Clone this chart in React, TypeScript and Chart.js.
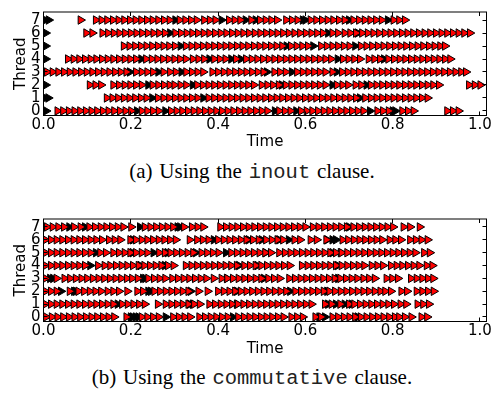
import React, { useEffect, useRef } from "react";
import { Chart, registerables } from "chart.js";

Chart.register(...registerables);

// ---------- tick labels / axes ----------
const xTickValues = [0, 0.2, 0.4, 0.6, 0.8, 1.0];
const yTickValues = [0, 1, 2, 3, 4, 5, 6, 7];
const xAxisTitle = "Time";
const yAxisTitle = "Thread";

// ---------- (a) inout clause : task start times per thread ----------
const inoutRed0 = [0.032, 0.045, 0.058, 0.071, 0.084, 0.097, 0.110, 0.123, 0.136, 0.149, 0.162, 0.175, 0.188, 0.201, 0.225, 0.238, 0.251, 0.264, 0.292, 0.305, 0.318, 0.331, 0.344, 0.357, 0.370, 0.383, 0.396, 0.409, 0.422, 0.435, 0.448, 0.461, 0.474, 0.487, 0.500, 0.513, 0.540, 0.553, 0.566, 0.590, 0.603, 0.616, 0.629, 0.642, 0.655, 0.668, 0.681, 0.694, 0.707, 0.720, 0.733, 0.765, 0.778, 0.791, 0.822, 0.835, 0.848, 0.925, 0.938, 0.951];
const inoutBlack0 = [0.006, 0.214, 0.279, 0.530, 0.579, 0.748, 0.800, 0.806];
const inoutRed1 = [0.145, 0.158, 0.171, 0.184, 0.197, 0.210, 0.223, 0.236, 0.262, 0.275, 0.288, 0.301, 0.314, 0.327, 0.340, 0.353, 0.378, 0.391, 0.404, 0.417, 0.430, 0.443, 0.456, 0.469, 0.482, 0.495, 0.508, 0.521, 0.534, 0.547, 0.560, 0.573, 0.586, 0.599, 0.612, 0.625, 0.638, 0.651, 0.664, 0.677, 0.690, 0.703, 0.716, 0.737, 0.750, 0.763, 0.776, 0.789, 0.802, 0.815, 0.828, 0.841, 0.854, 0.867, 0.880];
const inoutBlack1 = [0.004, 0.011, 0.249, 0.366, 0.725];
const inoutRed2 = [0.106, 0.119, 0.132, 0.160, 0.173, 0.186, 0.199, 0.212, 0.225, 0.250, 0.263, 0.276, 0.289, 0.300, 0.314, 0.327, 0.352, 0.365, 0.378, 0.391, 0.404, 0.417, 0.430, 0.443, 0.456, 0.469, 0.482, 0.500, 0.513, 0.526, 0.539, 0.555, 0.568, 0.581, 0.594, 0.607, 0.620, 0.633, 0.646, 0.672, 0.685, 0.698, 0.715, 0.728, 0.750, 0.763, 0.776, 0.789, 0.802, 0.815, 0.828, 0.841, 0.854, 0.867, 0.880, 0.893, 0.906, 0.975, 0.988, 1.001];
const inoutBlack2 = [0.005, 0.240, 0.342, 0.546, 0.662, 0.740];
const inoutRed3 = [0.008, 0.021, 0.034, 0.047, 0.060, 0.073, 0.086, 0.099, 0.112, 0.125, 0.138, 0.151, 0.164, 0.177, 0.190, 0.212, 0.225, 0.238, 0.251, 0.275, 0.290, 0.303, 0.327, 0.340, 0.353, 0.366, 0.387, 0.400, 0.413, 0.426, 0.439, 0.452, 0.465, 0.478, 0.491, 0.504, 0.529, 0.542, 0.555, 0.581, 0.594, 0.607, 0.620, 0.633, 0.646, 0.662, 0.684, 0.697, 0.710, 0.723, 0.736, 0.749, 0.762, 0.775, 0.788, 0.801, 0.814, 0.827, 0.840, 0.853, 0.866, 0.879, 0.892, 0.905, 0.918, 0.931, 0.944, 0.957, 0.968];
const inoutBlack3 = [0.198, 0.263, 0.316, 0.512, 0.569, 0.672];
const inoutRed4 = [0.056, 0.069, 0.082, 0.095, 0.108, 0.121, 0.134, 0.147, 0.160, 0.173, 0.186, 0.199, 0.212, 0.235, 0.248, 0.261, 0.274, 0.287, 0.300, 0.313, 0.326, 0.342, 0.355, 0.368, 0.391, 0.404, 0.417, 0.441, 0.464, 0.477, 0.490, 0.503, 0.516, 0.529, 0.542, 0.555, 0.568, 0.581, 0.594, 0.607, 0.620, 0.633, 0.646, 0.659, 0.686, 0.699, 0.712, 0.725, 0.745, 0.758, 0.771, 0.790, 0.803, 0.816, 0.829, 0.842, 0.855, 0.868, 0.881, 0.894, 0.907, 0.920, 0.932];
const inoutBlack4 = [0.005, 0.224, 0.380, 0.430, 0.452, 0.674, 0.780];
const inoutRed5 = [0.184, 0.197, 0.210, 0.223, 0.236, 0.249, 0.262, 0.275, 0.288, 0.301, 0.326, 0.339, 0.352, 0.365, 0.378, 0.391, 0.404, 0.417, 0.430, 0.443, 0.456, 0.469, 0.482, 0.495, 0.508, 0.521, 0.534, 0.547, 0.567, 0.580, 0.593, 0.606, 0.636, 0.649, 0.662, 0.675, 0.688, 0.701, 0.727, 0.740, 0.753, 0.766, 0.779, 0.792, 0.805, 0.818, 0.831, 0.844, 0.857, 0.870, 0.883, 0.896, 0.909, 0.920];
const inoutBlack5 = [0.005, 0.314, 0.557, 0.618, 0.714];
const inoutRed6 = [0.098, 0.112, 0.135, 0.148, 0.161, 0.174, 0.187, 0.200, 0.213, 0.226, 0.239, 0.252, 0.265, 0.278, 0.302, 0.315, 0.328, 0.341, 0.354, 0.367, 0.380, 0.393, 0.406, 0.419, 0.432, 0.445, 0.458, 0.471, 0.484, 0.497, 0.510, 0.523, 0.536, 0.549, 0.562, 0.575, 0.588, 0.601, 0.614, 0.627, 0.640, 0.662, 0.675, 0.690, 0.703, 0.716, 0.730, 0.743, 0.756, 0.769, 0.782, 0.795, 0.808, 0.821, 0.834, 0.847, 0.860, 0.873, 0.886, 0.899, 0.912, 0.925, 0.938, 0.951, 0.964, 0.977];
const inoutBlack6 = [0.005, 0.290, 0.652, 0.720];
const inoutRed7 = [0.085, 0.120, 0.133, 0.146, 0.159, 0.172, 0.185, 0.198, 0.211, 0.224, 0.237, 0.250, 0.263, 0.276, 0.289, 0.312, 0.325, 0.338, 0.351, 0.368, 0.381, 0.394, 0.425, 0.438, 0.451, 0.476, 0.496, 0.509, 0.522, 0.535, 0.556, 0.569, 0.582, 0.612, 0.625, 0.638, 0.651, 0.664, 0.677, 0.690, 0.710, 0.723, 0.736, 0.749, 0.762, 0.775, 0.802, 0.815, 0.828];
const inoutBlack7 = [0.004, 0.012, 0.302, 0.408, 0.463, 0.486, 0.594, 0.600, 0.700, 0.789];

// ---------- (b) commutative clause : task start times per thread ----------
const commRed0 = [0.006, 0.019, 0.032, 0.045, 0.058, 0.071, 0.084, 0.097, 0.110, 0.123, 0.136, 0.149, 0.162, 0.190, 0.225, 0.238, 0.251, 0.264, 0.297, 0.310, 0.323, 0.336, 0.357, 0.370, 0.383, 0.396, 0.409, 0.422, 0.446, 0.459, 0.472, 0.485, 0.498, 0.511, 0.524, 0.537, 0.550, 0.568, 0.581, 0.594, 0.623, 0.636, 0.662, 0.675, 0.688, 0.701, 0.714, 0.727, 0.740, 0.753, 0.766, 0.779, 0.792, 0.805, 0.815, 0.828, 0.843, 0.866, 0.879];
const commBlack0 = [0.200, 0.205, 0.212, 0.218, 0.280, 0.434, 0.632, 0.645, 0.720];
const commRed1 = [0.004, 0.017, 0.030, 0.043, 0.056, 0.069, 0.082, 0.095, 0.108, 0.121, 0.134, 0.147, 0.160, 0.180, 0.193, 0.206, 0.219, 0.232, 0.262, 0.280, 0.293, 0.306, 0.319, 0.332, 0.345, 0.358, 0.380, 0.393, 0.406, 0.419, 0.432, 0.445, 0.458, 0.471, 0.484, 0.497, 0.510, 0.523, 0.536, 0.549, 0.562, 0.575, 0.588, 0.601, 0.614, 0.645, 0.660, 0.680, 0.700, 0.712, 0.725, 0.738, 0.751, 0.764, 0.777, 0.790, 0.803, 0.818, 0.831, 0.857, 0.870, 0.883];
const commBlack1 = [0.170, 0.335, 0.342, 0.443, 0.652, 0.670, 0.690, 0.706];
const commRed2 = [0.004, 0.017, 0.030, 0.060, 0.080, 0.093, 0.106, 0.119, 0.132, 0.147, 0.160, 0.173, 0.192, 0.215, 0.228, 0.254, 0.267, 0.280, 0.293, 0.306, 0.319, 0.332, 0.355, 0.376, 0.400, 0.413, 0.426, 0.439, 0.452, 0.465, 0.478, 0.491, 0.504, 0.517, 0.530, 0.543, 0.556, 0.577, 0.590, 0.603, 0.616, 0.629, 0.642, 0.655, 0.668, 0.681, 0.694, 0.707, 0.720, 0.733, 0.746, 0.759, 0.772, 0.783, 0.796, 0.820, 0.833, 0.855, 0.868, 0.881, 0.894];
const commBlack2 = [0.040, 0.070, 0.074, 0.240, 0.246, 0.337, 0.443, 0.565, 0.650];
const commRed3 = [0.004, 0.030, 0.048, 0.061, 0.074, 0.087, 0.100, 0.113, 0.126, 0.139, 0.152, 0.165, 0.178, 0.191, 0.203, 0.216, 0.240, 0.253, 0.266, 0.279, 0.295, 0.308, 0.321, 0.334, 0.347, 0.360, 0.373, 0.390, 0.408, 0.421, 0.434, 0.447, 0.460, 0.473, 0.486, 0.499, 0.515, 0.528, 0.541, 0.563, 0.576, 0.589, 0.602, 0.615, 0.628, 0.641, 0.654, 0.667, 0.680, 0.693, 0.706, 0.719, 0.733, 0.746, 0.759, 0.786, 0.799, 0.812, 0.842, 0.855, 0.868, 0.881, 0.893];
const commBlack3 = [0.015, 0.022, 0.228, 0.233, 0.420, 0.505, 0.675];
const commRed4 = [0.004, 0.017, 0.030, 0.043, 0.056, 0.069, 0.082, 0.095, 0.125, 0.140, 0.153, 0.166, 0.179, 0.192, 0.205, 0.218, 0.231, 0.244, 0.257, 0.270, 0.285, 0.298, 0.326, 0.339, 0.352, 0.365, 0.378, 0.391, 0.404, 0.417, 0.430, 0.443, 0.460, 0.473, 0.486, 0.499, 0.512, 0.525, 0.538, 0.551, 0.564, 0.592, 0.605, 0.618, 0.631, 0.644, 0.657, 0.670, 0.683, 0.696, 0.709, 0.722, 0.735, 0.752, 0.765, 0.778, 0.796, 0.809, 0.822, 0.835, 0.848, 0.861, 0.878, 0.891];
const commBlack4 = [0.107, 0.222, 0.278, 0.448, 0.490, 0.674];
const commRed5 = [0.004, 0.017, 0.030, 0.043, 0.056, 0.069, 0.082, 0.095, 0.108, 0.130, 0.143, 0.160, 0.173, 0.186, 0.199, 0.212, 0.225, 0.238, 0.265, 0.278, 0.291, 0.304, 0.317, 0.330, 0.343, 0.362, 0.375, 0.388, 0.401, 0.430, 0.443, 0.456, 0.469, 0.482, 0.495, 0.508, 0.521, 0.540, 0.553, 0.566, 0.579, 0.592, 0.605, 0.618, 0.631, 0.644, 0.657, 0.670, 0.683, 0.696, 0.709, 0.722, 0.735, 0.748, 0.761, 0.774, 0.787, 0.800, 0.813, 0.826, 0.839, 0.852, 0.872, 0.885];
const commBlack5 = [0.120, 0.204, 0.252, 0.284, 0.349, 0.418, 0.509, 0.662, 0.681];
const commRed6 = [0.004, 0.017, 0.030, 0.043, 0.056, 0.069, 0.082, 0.095, 0.108, 0.121, 0.134, 0.150, 0.163, 0.176, 0.199, 0.212, 0.225, 0.238, 0.251, 0.264, 0.277, 0.290, 0.303, 0.335, 0.352, 0.365, 0.378, 0.400, 0.413, 0.426, 0.439, 0.452, 0.465, 0.480, 0.493, 0.510, 0.523, 0.536, 0.549, 0.575, 0.588, 0.612, 0.626, 0.648, 0.685, 0.698, 0.711, 0.724, 0.737, 0.750, 0.763, 0.776, 0.793, 0.806, 0.819, 0.840, 0.853, 0.866, 0.880];
const commBlack6 = [0.205, 0.390, 0.470, 0.500, 0.540, 0.562, 0.650, 0.662, 0.670];
const commRed7 = [0.008, 0.021, 0.034, 0.047, 0.070, 0.085, 0.105, 0.118, 0.131, 0.144, 0.157, 0.170, 0.183, 0.201, 0.232, 0.245, 0.258, 0.271, 0.284, 0.297, 0.322, 0.340, 0.353, 0.366, 0.405, 0.418, 0.431, 0.444, 0.457, 0.470, 0.483, 0.496, 0.509, 0.522, 0.535, 0.548, 0.561, 0.574, 0.587, 0.600, 0.617, 0.630, 0.643, 0.656, 0.669, 0.682, 0.695, 0.710, 0.723, 0.736, 0.749, 0.762, 0.775, 0.788, 0.801, 0.825, 0.840, 0.862];
const commBlack7 = [0.059, 0.095, 0.221, 0.307, 0.313, 0.700];

const inoutRedRows = [inoutRed0, inoutRed1, inoutRed2, inoutRed3, inoutRed4, inoutRed5, inoutRed6, inoutRed7];
const inoutBlackRows = [inoutBlack0, inoutBlack1, inoutBlack2, inoutBlack3, inoutBlack4, inoutBlack5, inoutBlack6, inoutBlack7];
const commRedRows = [commRed0, commRed1, commRed2, commRed3, commRed4, commRed5, commRed6, commRed7];
const commBlackRows = [commBlack0, commBlack1, commBlack2, commBlack3, commBlack4, commBlack5, commBlack6, commBlack7];

const SANS = '"DejaVu Sans", sans-serif';

function toPoints(rows: number[][]) {
  const pts: { x: number; y: number }[] = [];
  rows.forEach((row, thread) => row.forEach((t) => pts.push({ x: t, y: thread })));
  return pts;
}

const framePlugin = {
  id: "frame",
  afterDatasetsDraw(chart: any) {
    const { ctx, chartArea: a, scales } = chart;
    const xs = scales.x;
    const ys = scales.y;
    ctx.save();
    ctx.strokeStyle = "#000";
    ctx.lineWidth = 1;
    ctx.strokeRect(a.left, a.top, a.right - a.left, a.bottom - a.top);
    ctx.beginPath();
    for (const v of xTickValues) {
      const px = Math.floor(xs.getPixelForValue(v)) + 0.5;
      ctx.moveTo(px, a.bottom);
      ctx.lineTo(px, a.bottom - 4);
      ctx.moveTo(px, a.top);
      ctx.lineTo(px, a.top + 4);
    }
    for (const v of yTickValues) {
      const py = Math.floor(ys.getPixelForValue(v)) + 0.5;
      ctx.moveTo(a.left, py);
      ctx.lineTo(a.left + 4, py);
      ctx.moveTo(a.right, py);
      ctx.lineTo(a.right - 4, py);
    }
    ctx.stroke();
    ctx.restore();
  },
};

function makeConfig(redRows: number[][], blackRows: number[][], xScaleHeight: number, tickPad: number, titlePad: number) {
  const pointBase = {
    pointStyle: "triangle",
    rotation: 90,
    pointRadius: 4.9,
    borderColor: "#000",
    borderWidth: 1,
    showLine: false,
  };
  return {
    type: "scatter",
    data: {
      datasets: [
        { ...pointBase, data: toPoints(redRows), backgroundColor: "#ff0000", pointBackgroundColor: "#ff0000" },
        { ...pointBase, data: toPoints(blackRows), backgroundColor: "#000", pointBackgroundColor: "#000" },
      ],
    },
    options: {
      animation: false,
      responsive: false,
      events: [],
      layout: { padding: { top: 4.5, right: 8.5, bottom: 0, left: 0 } },
      plugins: { legend: { display: false }, tooltip: { enabled: false } },
      scales: {
        x: {
          type: "linear",
          min: 0,
          max: 1.015,
          afterFit(s: any) { s.height = xScaleHeight; },
          afterBuildTicks(s: any) { s.ticks = xTickValues.map((v) => ({ value: v })); },
          grid: { display: false, drawTicks: false },
          border: { display: false },
          ticks: {
            padding: tickPad,
            color: "#000",
            autoSkip: false,
            maxRotation: 0,
            font: { family: SANS, size: 15 },
            callback: (v: any) => Number(v).toFixed(1),
          },
          title: { display: true, text: xAxisTitle, color: "#000", font: { family: SANS, size: 15 }, padding: { top: 0, bottom: titlePad } },
        },
        y: {
          type: "linear",
          min: -0.35,
          max: 7.62,
          afterFit(s: any) { s.width = 43.5; },
          afterBuildTicks(s: any) { s.ticks = yTickValues.map((v) => ({ value: v })); },
          grid: { display: false, drawTicks: false },
          border: { display: false },
          ticks: {
            padding: 3,
            color: "#000",
            autoSkip: false,
            font: { family: SANS, size: 15 },
            callback: (v: any) => String(v),
          },
          title: { display: true, text: yAxisTitle, color: "#000", font: { family: SANS, size: 15 }, padding: { top: 12, bottom: 0 } },
        },
      },
    },
    plugins: [framePlugin],
  } as any;
}

const captionStyle = (top: number): React.CSSProperties => ({
  position: "absolute",
  left: 0,
  top,
  width: 504,
  textAlign: "center",
  fontFamily: '"Liberation Serif", "Times New Roman", serif',
  fontSize: 21,
  lineHeight: "20px",
  wordSpacing: "1.5px",
  color: "#000",
  whiteSpace: "nowrap",
});
const monoStyle: React.CSSProperties = {
  fontFamily: '"Liberation Mono", "Courier New", monospace',
  fontSize: 20.5,
  color: "#222",
};

export default function App() {
  const refA = useRef<HTMLCanvasElement>(null);
  const refB = useRef<HTMLCanvasElement>(null);
  useEffect(() => {
    const a = new Chart(refA.current as HTMLCanvasElement, makeConfig(inoutRedRows, inoutBlackRows, 37.5, 1, 1.5));
    const b = new Chart(refB.current as HTMLCanvasElement, makeConfig(commRedRows, commBlackRows, 38.5, 0.5, 2));
    return () => {
      a.destroy();
      b.destroy();
    };
  }, []);
  return (
    <div style={{ position: "fixed", left: 0, top: 0, width: 495, height: 393, background: "#fff", overflow: "hidden" }}>
      <canvas ref={refA} width={495} height={153} style={{ position: "absolute", left: 0, top: 0 }} />
      <div style={captionStyle(161)}>
        (a) Using the <span style={monoStyle}>inout</span> clause.
      </div>
      <canvas ref={refB} width={495} height={153} style={{ position: "absolute", left: 0, top: 207 }} />
      <div style={captionStyle(367)}>
        (b) Using the <span style={monoStyle}>commutative</span> clause.
      </div>
    </div>
  );
}
